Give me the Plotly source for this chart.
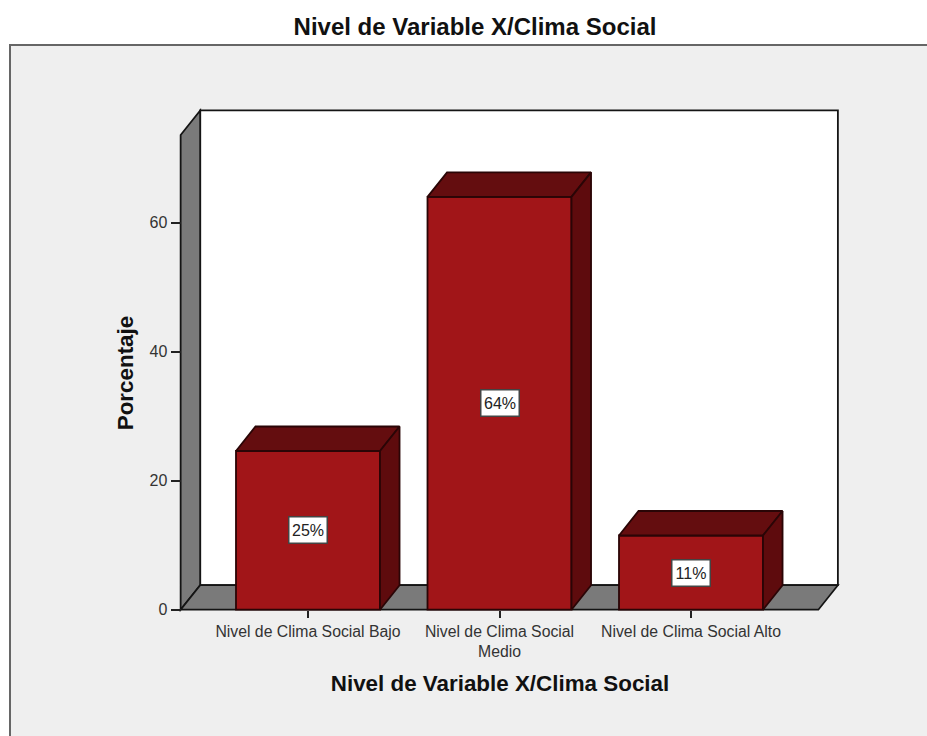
import plotly.graph_objects as go

categories = ["Nivel de Clima Social Bajo", "Nivel de Clima Social<br>Medio", "Nivel de Clima Social Alto"]
positions = [0, 1, 2]
values = [24.6, 64.0, 11.5]
labels = ["25%", "64%", "11%"]
y_ticks = [0, 20, 40, 60]

BAR_W = 0.752
DX = 0.102   # depth offset along x, data units
DY = 3.8     # depth offset along y, data units
X0, X1 = -0.665, 2.665  # front floor extent
Y_TOP = 73.6

RED = "#a11518"
TOP = "#640d0f"
SIDE = "#5e0b0d"
GREY = "#7a7a7a"
EDGE = "#141414"
BAR_EDGE = "#2a0506"

PW, PH = 680, 546
L, T = 160, 100
fig = go.Figure()

fig.add_trace(go.Bar(x=positions, y=values, width=BAR_W,
                     marker=dict(color=RED, line=dict(color=BAR_EDGE, width=1.8)),
                     hoverinfo="skip"))

for p, v in zip(positions, values):
    a, b = p - BAR_W / 2, p + BAR_W / 2
    fig.add_trace(go.Scatter(x=[a, a + DX, b + DX, b, a], y=[v, v + DY, v + DY, v, v],
                             mode="lines", fill="toself", fillcolor=TOP,
                             line=dict(color=BAR_EDGE, width=1.8), hoverinfo="skip"))
    fig.add_trace(go.Scatter(x=[b, b + DX, b + DX, b, b], y=[v, v + DY, DY, 0, v],
                             mode="lines", fill="toself", fillcolor=SIDE,
                             line=dict(color=BAR_EDGE, width=1.8), hoverinfo="skip"))

shapes = [
    dict(type="rect", xref="paper", yref="paper", layer="below",
         x0=(10 - L) / PW, x1=(960 - L) / PW, y0=1 - (760 - T) / PH, y1=1 - (45 - T) / PH,
         fillcolor="#efefef", line=dict(color="#666666", width=2)),
    dict(type="path", xref="x", yref="y", layer="below",
         path=f"M{X0+DX},{DY} L{X1+DX},{DY} L{X1+DX},{Y_TOP+DY} L{X0+DX},{Y_TOP+DY} Z",
         fillcolor="white", line=dict(color=EDGE, width=1.8)),
    dict(type="path", xref="x", yref="y", layer="below",
         path=f"M{X0},0 L{X0+DX},{DY} L{X0+DX},{Y_TOP+DY} L{X0},{Y_TOP} Z",
         fillcolor=GREY, line=dict(color=EDGE, width=1.8)),
    dict(type="path", xref="x", yref="y", layer="below",
         path=f"M{X0},0 L{X1},0 L{X1+DX},{DY} L{X0+DX},{DY} Z",
         fillcolor=GREY, line=dict(color=EDGE, width=1.8)),
]

annotations = [
    dict(x=p, y=v / 2, text=t, showarrow=False, xref="x", yref="y",
         font=dict(family="Liberation Sans", size=16, color="#222222"),
         bgcolor="white", bordercolor="#444444", borderwidth=1.5, borderpad=0,
         width=37, height=25)
    for p, v, t in zip(positions, values, labels)
]

fig.update_layout(
    width=927, height=736, autosize=False,
    margin=dict(l=L, r=927 - L - PW, t=T, b=736 - T - PH),
    paper_bgcolor="white", plot_bgcolor="rgba(0,0,0,0)",
    showlegend=False, barmode="overlay",
    font=dict(family="Liberation Sans", color="#222222"),
    title=dict(text="Nivel de Variable X/Clima Social", x=475 / 927, xanchor="center",
               y=1 - 27 / 736, yanchor="middle",
               font=dict(family="Liberation Sans", size=24, color="#111111", weight="bold")),
    shapes=shapes, annotations=annotations,
    xaxis=dict(range=[-0.7728, 2.778], anchor="free", position=36.3 / PH,
               tickmode="array", tickvals=positions, ticktext=categories,
               ticks="outside", ticklen=7, tickwidth=1.5, tickcolor="#222222",
               showgrid=False, zeroline=False, showline=False,
               tickangle=0, tickfont=dict(size=15.8, color="#333333"),
               title=dict(text="Nivel de Variable X/Clima Social", standoff=16,
                          font=dict(size=22.4, color="#111111", weight="bold"))),
    yaxis=dict(range=[-5.628, 79.02], anchor="free", position=20.5 / PW,
               tickmode="array", tickvals=y_ticks,
               ticks="outside", ticklen=10, tickwidth=1.5, tickcolor="#222222",
               showgrid=False, zeroline=False, showline=False,
               tickfont=dict(size=16, color="#333333"),
               title=dict(text="Porcentaje", standoff=8,
                          font=dict(size=22.4, color="#111111", weight="bold"))),
)

fig.write_html("out.html", config=dict(displayModeBar=False),
               post_script="document.body.style.margin='0';")
